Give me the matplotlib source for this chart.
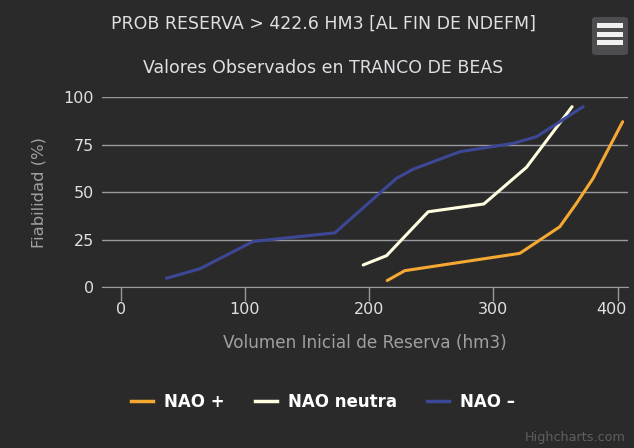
import matplotlib
matplotlib.use("Agg")
import matplotlib.pyplot as plt
import matplotlib.transforms as mtransforms
from matplotlib.patches import FancyBboxPatch, Rectangle
from matplotlib.lines import Line2D

# NAO + (orange)
nao_pos_x = [214.5, 228.7, 321.2, 353.4, 366.8, 380.2, 404]
nao_pos_y = [3.4, 8.6, 17.7, 31.7, 44, 57.2, 87]
# NAO neutra (cream)
nao_neu_x = [195.2, 214, 247.5, 292.3, 326.6, 363.3]
nao_neu_y = [11.6, 16.5, 39.6, 43.7, 63, 94.9]
# NAO - (blue)
nao_neg_x = [36.9, 63.8, 106.7, 172.4, 222, 235.4, 273, 315.8, 334.7, 372.2]
nao_neg_y = [4.6, 9.6, 24.0, 28.5, 57.2, 62, 71.2, 75.6, 79.1, 94.9]

x_ticks = [0, 100, 200, 300, 400]
y_ticks = [0, 25, 50, 75, 100]

BG = "#2a2a2b"
W, H = 634, 448
C_POS, C_NEU, C_NEG = "#f5a832", "#fffee0", "#3c4896"

fig = plt.figure(figsize=(W / 100, H / 100), dpi=100, facecolor=BG)
ax = fig.add_axes([102 / W, (H - 287) / H, (628 - 102) / W, (287 - 97) / H])
ax.set_facecolor(BG)

ax.plot(nao_pos_x, nao_pos_y, color=C_POS, lw=2.2, solid_capstyle="round")
ax.plot(nao_neu_x, nao_neu_y, color=C_NEU, lw=2.2, solid_capstyle="round")
ax.plot(nao_neg_x, nao_neg_y, color=C_NEG, lw=2.2, solid_capstyle="round")

ax.set_xlim(-15, 408.3)
ax.set_ylim(0, 100)
ax.set_xticks(x_ticks)
ax.set_yticks(y_ticks)
ax.grid(axis="y", color="#9a9a9c", lw=1)
ax.set_axisbelow(True)
for s in ["top", "right", "left"]:
    ax.spines[s].set_visible(False)
ax.spines["bottom"].set_color("#9a9a9c")
ax.tick_params(axis="x", colors="#9a9a9c", length=10, width=1, labelcolor="#e0e0e3", labelsize=11.5, pad=1)
ax.tick_params(axis="y", length=0, labelcolor="#e0e0e3", labelsize=11.5, pad=6)
ax.set_xlabel("Volumen Inicial de Reserva (hm3)", color="#a0a0a3", fontsize=12.2, labelpad=12)
ax.set_ylabel("Fiabilidad (%)", color="#a0a0a3", fontsize=11.8, labelpad=12)

# last x label is pulled inside the chart edge
last = ax.get_xticklabels()[-1]
last.set_transform(last.get_transform() + mtransforms.ScaledTranslation(-6 / 100, 0, fig.dpi_scale_trans))

fig.text(323 / W, 1 - 24 / H, "PROB RESERVA > 422.6 HM3 [AL FIN DE NDEFM]", color="#e0e0e3",
         fontsize=12.5, ha="center", va="center")
fig.text(323 / W, 1 - 68 / H, "Valores Observados en TRANCO DE BEAS", color="#e0e0e3",
         fontsize=12.5, ha="center", va="center")

# legend
handles = [Line2D([], [], color=c, lw=2.5) for c in [C_POS, C_NEU, C_NEG]]
fig.legend(handles, ["NAO +", "NAO neutra", "NAO –"], loc="center", bbox_to_anchor=(323 / W, 1 - 402 / H),
           ncol=3, frameon=False, labelcolor="#ffffff", prop={"weight": "bold", "size": 12},
           handlelength=1.3, handletextpad=0.65, columnspacing=1.85)

fig.text(1 - 8 / W, 1 - 437 / H, "Highcharts.com", color="#5f5f61", fontsize=9.2, ha="right", va="center")

# export menu button
fig.patches.append(FancyBboxPatch((592 / W, 1 - 55 / H), 36 / W, 38 / H, boxstyle="round,pad=0,rounding_size=0.006",
                                  transform=fig.transFigure, facecolor="#4d4d50", edgecolor="none"))
for yy in [26, 34.3, 42.5]:
    fig.patches.append(Rectangle((597 / W, 1 - (yy + 2.5) / H), 26 / W, 5 / H,
                                 transform=fig.transFigure, facecolor="#f0f0f0", edgecolor="none"))

fig.savefig("out.png", dpi=100, facecolor=BG)
